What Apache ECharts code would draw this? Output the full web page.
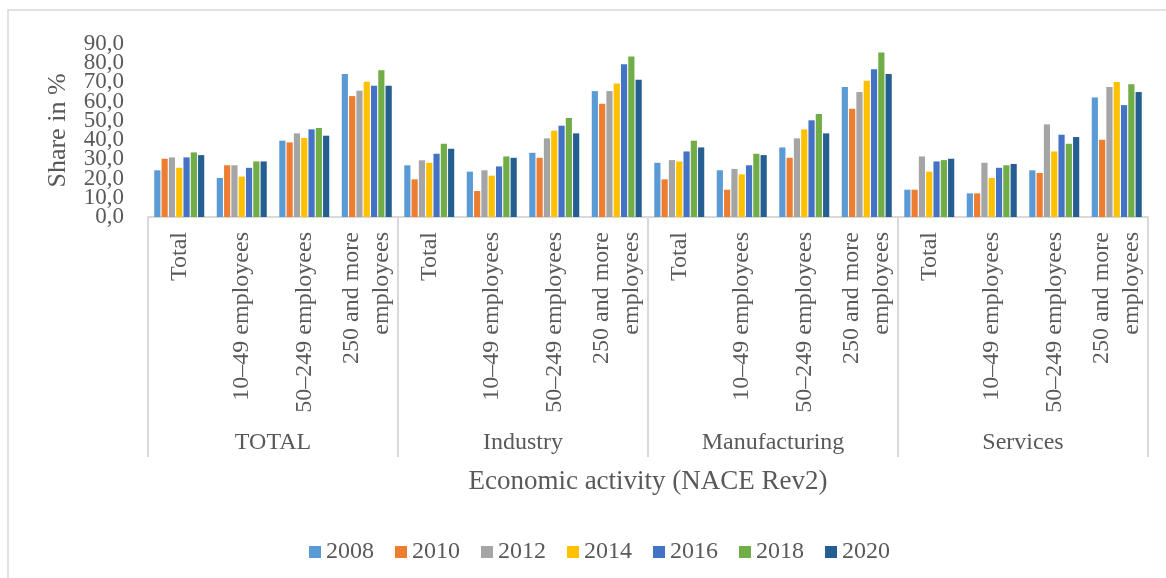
<!DOCTYPE html>
<html>
<head>
<meta charset="utf-8">
<script src="https://cdn.jsdelivr.net/npm/echarts@6/dist/echarts.min.js"></script>
<style>
  html, body { margin: 0; padding: 0; background: #fff; }
  #chart { width: 1166px; height: 578px; }
</style>
</head>
<body>
<div id="chart"></div>
<script>
// sub-categories (size classes) and the activity groups they sit under
const sizeClasses = ['Total', '10–49 employees', '50–249 employees', '250 and more\nemployees']
const activities = ['TOTAL', 'Industry', 'Manufacturing', 'Services']
const categories = []
activities.forEach(() => sizeClasses.forEach(s => categories.push(s)))

const years = ['2008', '2010', '2012', '2014', '2016', '2018', '2020']
const colors = ['#5B9BD5', '#ED7D31', '#A5A5A5', '#FFC000', '#4472C4', '#70AD47', '#255E91']

// share in %, order: TOTAL x4, Industry x4, Manufacturing x4, Services x4
const v2008 = [24.3, 20.3, 39.7, 74.4, 26.9, 23.6, 33.4, 65.5, 28.2, 24.3, 36.2, 67.6, 14.2, 12.3, 24.3, 62.2]
const v2010 = [30.3, 26.9, 38.8, 62.9, 19.6, 13.5, 30.8, 58.9, 19.6, 14.2, 30.8, 56.3, 14.2, 12.3, 22.9, 40.2]
const v2012 = [31.0, 26.9, 43.5, 65.7, 29.5, 24.3, 40.9, 65.5, 29.6, 25.0, 40.9, 65.0, 31.5, 28.2, 48.2, 67.6]
const v2014 = [25.6, 21.0, 41.1, 70.4, 28.2, 21.5, 44.9, 69.5, 28.9, 22.2, 45.6, 70.9, 23.6, 20.3, 34.1, 70.2]
const v2016 = [31.0, 25.6, 45.6, 68.3, 32.9, 26.3, 47.5, 79.5, 34.1, 26.9, 50.3, 76.9, 28.9, 25.6, 42.8, 58.2]
const v2018 = [33.6, 28.9, 46.3, 76.3, 38.1, 31.5, 51.5, 83.5, 39.7, 32.9, 53.6, 85.6, 29.6, 26.9, 38.1, 69.0]
const v2020 = [32.2, 28.9, 42.3, 68.3, 35.5, 30.8, 43.5, 71.4, 36.2, 32.2, 43.5, 74.4, 30.3, 27.6, 41.6, 65.0]
const values = [v2008, v2010, v2012, v2014, v2016, v2018, v2020]

const font = "'Liberation Serif', 'Times New Roman', serif"
const textColor = '#595959'
const lineColor = '#d9d9d9'
const fmt = v => v.toFixed(1).replace('.', ',')

// the y labels sit tighter than their font, so inner and end labels go on two stacked axes
const yBase = {
  type: 'value',
  min: 0,
  max: 90,
  interval: 10,
  axisLine: { show: false },
  axisTick: { show: false },
  splitLine: { show: false }
}
const yLabel = { margin: 24, hideOverlap: false, fontFamily: font, fontSize: 23, color: textColor }

const chart = echarts.init(document.getElementById('chart'))
chart.setOption({
  animation: false,
  textStyle: { fontFamily: font, color: textColor },
  graphic: [{
    type: 'rect',
    shape: { x: 8, y: 10, width: 1180, height: 600 },
    style: { fill: 'none', stroke: lineColor, lineWidth: 1.5 },
    silent: true
  }],
  grid: { left: 148, right: 18, top: 44, bottom: 361 },
  legend: {
    data: years,
    left: 304,
    top: 535,
    icon: 'rect',
    itemWidth: 12,
    itemHeight: 12,
    itemGap: 21,
    textStyle: { fontFamily: font, fontSize: 24, color: textColor }
  },
  xAxis: [
    {
      type: 'category',
      data: categories,
      axisLine: { lineStyle: { color: lineColor, width: 2 } },
      axisTick: { show: false },
      axisLabel: {
        interval: 0,
        rotate: 90,
        margin: 15,
        fontFamily: font,
        fontSize: 24,
        lineHeight: 30,
        color: textColor
      }
    },
    {
      type: 'category',
      data: activities,
      position: 'bottom',
      axisLine: { show: false },
      axisTick: { show: true, length: 240, lineStyle: { color: lineColor, width: 2 } },
      axisLabel: { margin: 214, fontFamily: font, fontSize: 24, color: textColor },
      name: 'Economic activity (NACE Rev2)',
      nameLocation: 'middle',
      nameGap: 251,
      nameTextStyle: { fontFamily: font, fontSize: 27, color: textColor }
    }
  ],
  yAxis: [
    Object.assign({}, yBase, {
      position: 'left',
      axisLabel: Object.assign({}, yLabel, { showMinLabel: false, showMaxLabel: false, formatter: fmt }),
      name: 'Share in %',
      nameLocation: 'middle',
      nameRotate: 90,
      nameGap: 77,
      nameTextStyle: { fontFamily: font, fontSize: 26, color: textColor }
    }),
    Object.assign({}, yBase, {
      position: 'left',
      axisLabel: Object.assign({}, yLabel, {
        showMinLabel: true,
        showMaxLabel: true,
        formatter: v => (v === 0 || v === 90) ? fmt(v) : ''
      })
    })
  ],
  series: years.map((y, i) => ({
    name: y,
    type: 'bar',
    xAxisIndex: 0,
    yAxisIndex: 0,
    data: values[i],
    barGap: '18%',
    barCategoryGap: '20%',
    itemStyle: { color: colors[i] }
  }))
})
</script>
</body>
</html>
